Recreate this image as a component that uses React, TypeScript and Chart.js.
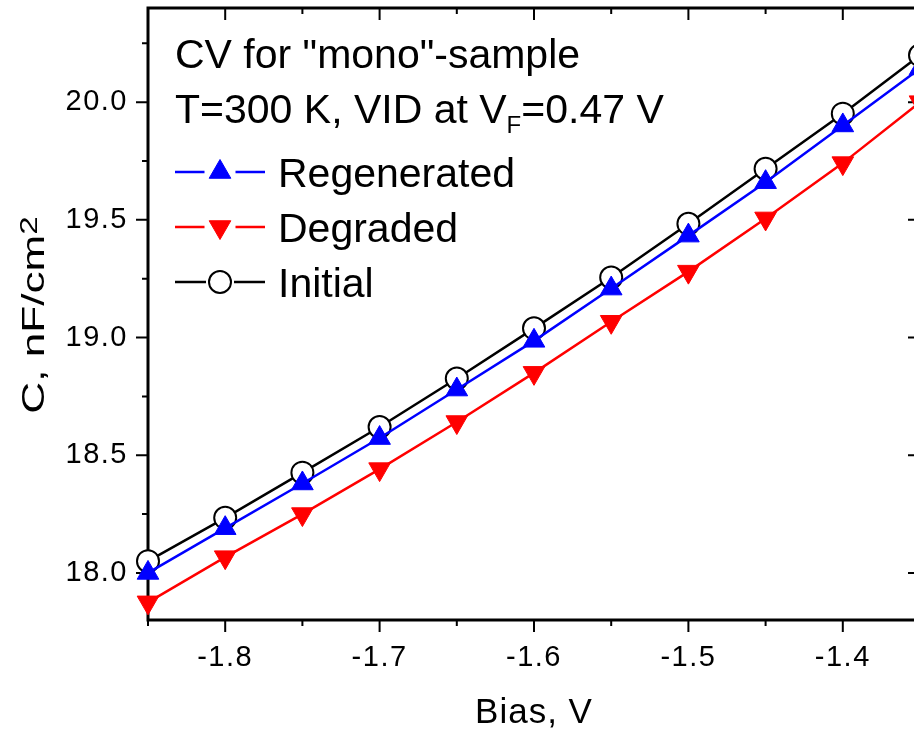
import React, { useEffect, useRef } from "react";
import { Chart, registerables } from "chart.js";

Chart.register(...registerables);

// ---- data ----
const BIAS = [-1.85, -1.8, -1.75, -1.7, -1.65, -1.6, -1.55, -1.5, -1.45, -1.4, -1.35];
const REGENERATED = [18.0, 18.19, 18.38, 18.573, 18.779, 18.986, 19.208, 19.433, 19.66, 19.901, 20.143];
const DEGRADED = [17.875, 18.067, 18.25, 18.441, 18.641, 18.85, 19.067, 19.28, 19.506, 19.741, 20.0];
const INITIAL = [18.05, 18.234, 18.426, 18.62, 18.826, 19.039, 19.255, 19.483, 19.717, 19.951, 20.199];

const SERIES_LABELS = ["Regenerated", "Degraded", "Initial"];
const X_MAJOR = [-1.8, -1.7, -1.6, -1.5, -1.4];
const X_MINOR = [-1.85, -1.75, -1.65, -1.55, -1.45, -1.35];
const Y_MAJOR = [18.0, 18.5, 19.0, 19.5, 20.0];
const Y_MINOR = [18.25, 18.75, 19.25, 19.75, 20.25];
const X_TITLE = "Bias, V";
const Y_TITLE_MAIN = "C, nF/cm";
const Y_TITLE_SUP = "2";
const HEADER_1 = 'CV for "mono"-sample';
const HEADER_2A = "T=300 K, VID at V";
const HEADER_2SUB = "F";
const HEADER_2B = "=0.47 V";

const FONT = '"Liberation Sans", Arial, Helvetica, sans-serif';

function drawMarker(ctx: CanvasRenderingContext2D, style: string, rot: number, cx: number, cy: number, r: number, fill: string, stroke: string, bw: number) {
  ctx.save();
  ctx.beginPath();
  if (style === "circle") {
    ctx.arc(cx, cy, r, 0, Math.PI * 2);
  } else {
    let a = (rot * Math.PI) / 180;
    for (let k = 0; k < 3; k++) {
      const px = cx + Math.sin(a) * r;
      const py = cy - Math.cos(a) * r;
      if (k === 0) ctx.moveTo(px, py);
      else ctx.lineTo(px, py);
      a += (2 * Math.PI) / 3;
    }
    ctx.closePath();
  }
  ctx.fillStyle = fill;
  ctx.fill();
  ctx.lineWidth = bw;
  ctx.strokeStyle = stroke;
  ctx.stroke();
  ctx.restore();
}

const framePlugin = {
  id: "originFrame",
  beforeDraw(chart: any) {
    (chart.ctx as any).letterSpacing = "1.5px";
  },
  beforeDatasetsDraw(chart: any) {
    const ctx: CanvasRenderingContext2D = chart.ctx;
    const { left, right, top, bottom } = chart.chartArea;
    const xs = chart.scales.x;
    const ys = chart.scales.y;
    ctx.save();
    ctx.strokeStyle = "#000";
    ctx.lineWidth = 2;
    ctx.beginPath();
    const xt = (vals: number[], len: number) => {
      vals.forEach((v) => {
        const px = xs.getPixelForValue(v);
        ctx.moveTo(px, bottom);
        ctx.lineTo(px, bottom + len);
        ctx.moveTo(px, top);
        ctx.lineTo(px, top + len);
      });
    };
    const yt = (vals: number[], len: number) => {
      vals.forEach((v) => {
        const py = ys.getPixelForValue(v);
        ctx.moveTo(left - len, py);
        ctx.lineTo(left, py);
        ctx.moveTo(right - len, py);
        ctx.lineTo(right, py);
      });
    };
    xt(X_MAJOR, 12);
    xt(X_MINOR, 6);
    yt(Y_MAJOR, 12);
    yt(Y_MINOR, 6);
    ctx.stroke();
    ctx.lineWidth = 3;
    ctx.strokeRect(left, top, right - left, bottom - top);
    ctx.restore();
  },
  afterDraw(chart: any) {
    const ctx: CanvasRenderingContext2D = chart.ctx;
    const { left, right, top, bottom } = chart.chartArea;
    ctx.save();
    (ctx as any).letterSpacing = "0px";
    ctx.fillStyle = "#000";
    ctx.textAlign = "left";
    ctx.textBaseline = "alphabetic";

    // header text
    ctx.font = `41px ${FONT}`;
    ctx.fillText(HEADER_1, 175, 68);
    let x = 175;
    const y2 = 123;
    ctx.fillText(HEADER_2A, x, y2);
    x += ctx.measureText(HEADER_2A).width;
    ctx.font = `24px ${FONT}`;
    ctx.fillText(HEADER_2SUB, x, y2 + 10);
    x += ctx.measureText(HEADER_2SUB).width;
    ctx.font = `41px ${FONT}`;
    ctx.fillText(HEADER_2B, x, y2);

    // legend
    const ds = chart.data.datasets;
    ds.forEach((d: any, i: number) => {
      const ly = 172 + i * 55;
      const cx = 220;
      const r = d.pointStyle === "circle" ? 11 : 12.5;
      ctx.strokeStyle = d.borderColor;
      ctx.lineWidth = 2.5;
      ctx.beginPath();
      ctx.moveTo(175, ly);
      ctx.lineTo(cx - r - 3, ly);
      ctx.moveTo(cx + r + 3, ly);
      ctx.lineTo(265, ly);
      ctx.stroke();
      drawMarker(ctx, d.pointStyle, d.pointRotation || 0, cx, ly, r, d.pointBackgroundColor, d.pointBorderColor, d.pointBorderWidth);
      ctx.fillStyle = "#000";
      ctx.font = `41px ${FONT}`;
      ctx.fillText(d.label, 278, ly + 15);
    });

    // x title
    (ctx as any).letterSpacing = "1px";
    ctx.font = `35px ${FONT}`;
    ctx.textAlign = "center";
    ctx.fillText(X_TITLE, (left + right) / 2, 723);

    // y title (rotated, stretched)
    (ctx as any).letterSpacing = "0px";
    ctx.textAlign = "left";
    ctx.font = `32px ${FONT}`;
    const wMain = ctx.measureText(Y_TITLE_MAIN).width;
    ctx.font = `24px ${FONT}`;
    const wSup = ctx.measureText(Y_TITLE_SUP).width;
    const sx = 1.38;
    ctx.translate(44, (top + bottom) / 2 + 1);
    ctx.rotate(-Math.PI / 2);
    ctx.scale(sx, 1);
    const x0 = -(wMain + wSup) / 2;
    ctx.font = `32px ${FONT}`;
    ctx.fillText(Y_TITLE_MAIN, x0, 0);
    ctx.font = `24px ${FONT}`;
    ctx.fillText(Y_TITLE_SUP, x0 + wMain, -7);
    ctx.restore();
  },
};

export default function App() {
  const ref = useRef<HTMLCanvasElement | null>(null);
  useEffect(() => {
    if (!ref.current) return;
    const mk = (values: number[]) => BIAS.map((b, i) => ({ x: b, y: values[i] }));
    const chart = new Chart(ref.current, {
      type: "line",
      data: {
        datasets: [
          {
            label: SERIES_LABELS[0],
            data: mk(REGENERATED),
            borderColor: "#0000ff",
            borderWidth: 2.5,
            pointStyle: "triangle",
            pointRotation: 0,
            pointRadius: 12.5,
            pointBackgroundColor: "#0000ff",
            pointBorderColor: "#0000ff",
            pointBorderWidth: 1,
            clip: false,
          },
          {
            label: SERIES_LABELS[1],
            data: mk(DEGRADED),
            borderColor: "#ff0000",
            borderWidth: 2.5,
            pointStyle: "triangle",
            pointRotation: 180,
            pointRadius: 12.5,
            pointBackgroundColor: "#ff0000",
            pointBorderColor: "#ff0000",
            pointBorderWidth: 1,
            clip: false,
          },
          {
            label: SERIES_LABELS[2],
            data: mk(INITIAL),
            borderColor: "#000000",
            borderWidth: 2.5,
            pointStyle: "circle",
            pointRadius: 11,
            pointBackgroundColor: "#ffffff",
            pointBorderColor: "#000000",
            pointBorderWidth: 2,
            clip: false,
          },
        ] as any,
      },
      options: {
        animation: false,
        responsive: false,
        devicePixelRatio: 1,
        events: [],
        layout: { autoPadding: false, padding: { left: 0, top: 8, right: 20, bottom: 0 } },
        plugins: { legend: { display: false }, tooltip: { enabled: false } },
        scales: {
          x: {
            type: "linear",
            min: -1.85,
            max: -1.35,
            grid: { display: false, drawTicks: false },
            border: { display: false },
            afterFit: (s: any) => {
              s.height = 111;
              s.paddingLeft = 0;
              s.paddingRight = 0;
            },
            afterBuildTicks: (s: any) => {
              s.ticks = X_MAJOR.map((v) => ({ value: v }));
            },
            ticks: {
              autoSkip: false,
              maxRotation: 0,
              padding: 21,
              color: "#000",
              font: { family: FONT, size: 29 },
              callback: (v: any) => Number(v).toFixed(1),
            },
          },
          y: {
            type: "linear",
            min: 17.8,
            max: 20.4,
            grid: { display: false, drawTicks: false },
            border: { display: false },
            afterFit: (s: any) => {
              s.width = 148;
              s.paddingTop = 0;
              s.paddingBottom = 0;
            },
            afterBuildTicks: (s: any) => {
              s.ticks = Y_MAJOR.map((v) => ({ value: v }));
            },
            ticks: {
              autoSkip: false,
              padding: 20,
              color: "#000",
              font: { family: FONT, size: 29 },
              callback: (v: any) => Number(v).toFixed(1),
            },
          },
        },
      } as any,
      plugins: [framePlugin],
    });
    return () => chart.destroy();
  }, []);

  return (
    <div style={{ position: "fixed", left: 0, top: 0, width: 914, height: 731, overflow: "hidden", background: "#fff" }}>
      <canvas ref={ref} width={940} height={731} style={{ display: "block", width: 940, height: 731 }} />
    </div>
  );
}
